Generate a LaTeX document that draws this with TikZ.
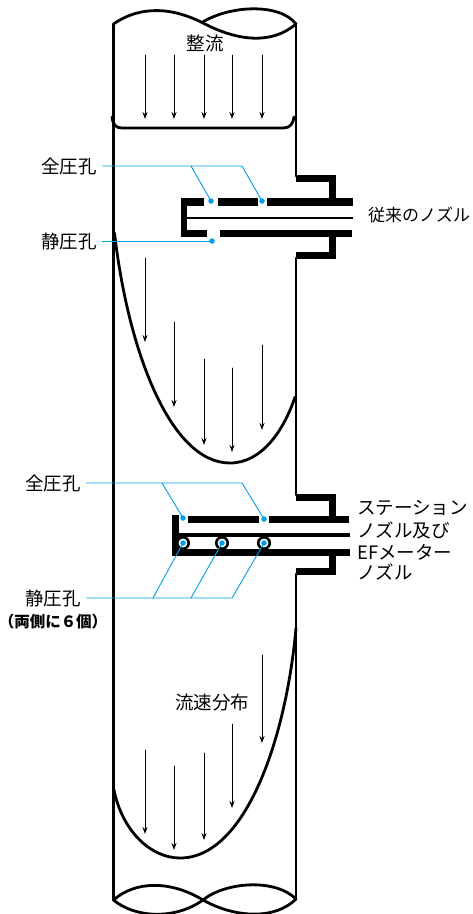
\documentclass[tikz,border=0pt]{standalone}
\usepackage{fontspec}
\usetikzlibrary{arrows.meta}
\setmainfont{Noto Sans CJK JP}
\definecolor{leadblue}{HTML}{00A0E9}
\tikzset{
	wall/.style={line width=2.8pt},
	flow/.style={-{Stealth[length=7pt,width=5pt]},line width=1pt},
	leader/.style={leadblue,line width=.9pt},
	lbl/.style={font=\fontsize{18.5}{20}\selectfont,inner sep=0pt},
	lblhole/.style={lbl,inner sep=5.5pt},
	port/.style={circle,fill=white,draw=black,line width=2.6pt,minimum size=11.5pt,inner sep=0pt},
	dot/.style={circle,fill=leadblue,inner sep=0pt,minimum size=5.5pt}
}
\begin{document}
\begin{tikzpicture}[x=1pt,y=-1pt,line join=round,line cap=round]
	\useasboundingbox (0,0) rectangle (472,914);
	% pipe walls
	\draw[wall] (113.5,24) -- (113.5,900);
	\draw[wall] (296,24) -- (296,176);
	\draw[wall] (296,258) -- (296,495);
	\draw[wall] (296,574) -- (296,899);
	% cut ends
	\draw[wall] (113.5,24) .. controls (135,9) and (165,4) .. (202,22.5) .. controls (235,40) and (270,46) .. (296,24);
	\draw[wall] (202,22.5) .. controls (230,5) and (280,3) .. (296,24);
	\draw[wall] (113.5,900) .. controls (135,881) and (170,880) .. (203,900) .. controls (235,918) and (275,920) .. (296,899);
	\draw[wall] (113.5,900) .. controls (135,918) and (175,920) .. (203,900) .. controls (225,882) and (275,878) .. (296,899);
	% velocity profiles
	\draw[wall] (112,117) .. controls (113,125) and (116,128) .. (122,128) -- (283,128) .. controls (290,128) and (293,124) .. (294,117);
	\draw[wall] (114.5,233) .. controls (128,350) and (170,463) .. (230,463) .. controls (262,463) and (284,430) .. (295,397);
	\draw[wall] (114,790) .. controls (122,830) and (150,858) .. (180,858) .. controls (245,858) and (286,740) .. (296,628);
	% flow arrows
	\foreach \px/\pa/\pb in {145/55/119,174/55/119,204/55/119,232/55/119,262/55/119,
		145/258/342,174/322/407,204/359/445,232/368/452,262/345/430,
		145/750/834,174/766/850,204/753/840,232/724/808,262/655/743}
		\draw[flow] (\px,\pa) -- (\px,\pb);
	% conventional nozzle
	\fill (296,175) rectangle (336,182);
	\fill (329,175) rectangle (336,200);
	\fill (181,198) rectangle (204,206);
	\fill (218,198) rectangle (258,206);
	\fill (267,198) rectangle (353,206);
	\fill (181,198) rectangle (187,237);
	\fill (187,217) rectangle (353,219);
	\fill (181,230) rectangle (207,237);
	\fill (220,230) rectangle (352,237);
	\fill (329,237) rectangle (336,259);
	\fill (296,252) rectangle (336,259);
	% station nozzle
	\fill (296,494) rectangle (336,501);
	\fill (329,494) rectangle (336,517);
	\fill (172,515) rectangle (179,556);
	\fill (188,516) rectangle (259,523);
	\fill (269,516) rectangle (349,523);
	\fill (179,533) rectangle (350,537);
	\fill (172,549) rectangle (350,556);
	\fill (329,556) rectangle (336,575);
	\fill (296,568) rectangle (336,575);
	\node[port] (porta) at (183,543) {};
	\node[port] (portb) at (222,543) {};
	\node[port] (portc) at (264,543) {};
	% labels
	\node[lbl] (seiryu) at (205,43) {整流};
	\node[lbl] (ryusoku) at (212,702) {流速分布};
	\node[lblhole] (zenatsua) at (69,166) {全圧孔};
	\node[lblhole] (seiatsua) at (69,241) {静圧孔};
	\node[lblhole] (zenatsub) at (53,483) {全圧孔};
	\node[lblhole] (seiatsub) at (53,598) {静圧孔};
	\node[inner sep=0pt,font=\fontsize{15.5}{17}\selectfont\bfseries] (ryosoku) at (53,622) {（両側に６個）};
	\node[lbl,font=\fontsize{17}{20}\selectfont,anchor=west] (juurai) at (368,215) {従来のノズル};
	\node[lbl,anchor=west] (stationa) at (357,508) {ステーション};
	\node[lbl,anchor=west] (stationb) at (357,530) {ノズル及び};
	\node[lbl,anchor=west] (stationc) at (357,552) {EFメーター};
	\node[lbl,anchor=west] (stationd) at (357,572) {ノズル};
	% pressure holes
	\node[dot] (holea) at (211,201) {};
	\node[dot] (holeb) at (262,201) {};
	\node[dot] (holec) at (212,241) {};
	\node[dot] (holed) at (183,518) {};
	\node[dot] (holee) at (264,519) {};
	\node[dot] (holef) at (183,543) {};
	\node[dot] (holeg) at (222,543) {};
	\node[dot] (holeh) at (264,543) {};
	\coordinate (brancha) at (191,166);
	\coordinate (branchb) at (242,166);
	\coordinate (branchc) at (162,483);
	\coordinate (branchd) at (242,483);
	\coordinate (branche) at (153,598);
	\coordinate (branchf) at (191,598);
	\coordinate (branchg) at (232,598);
	% leaders
	\draw[leader] (zenatsua.east) -- (branchb) -- (holeb.center);
	\draw[leader] (brancha) -- (holea.center);
	\draw[leader] (seiatsua.east) -- (holec.center);
	\draw[leader] (zenatsub.east) -- (branchd) -- (holee.center);
	\draw[leader] (branchc) -- (holed.center);
	\draw[leader] (seiatsub.east) -- (branchg) -- (holeh.center);
	\draw[leader] (branche) -- (holef.center);
	\draw[leader] (branchf) -- (holeg.center);
\end{tikzpicture}
\end{document}
